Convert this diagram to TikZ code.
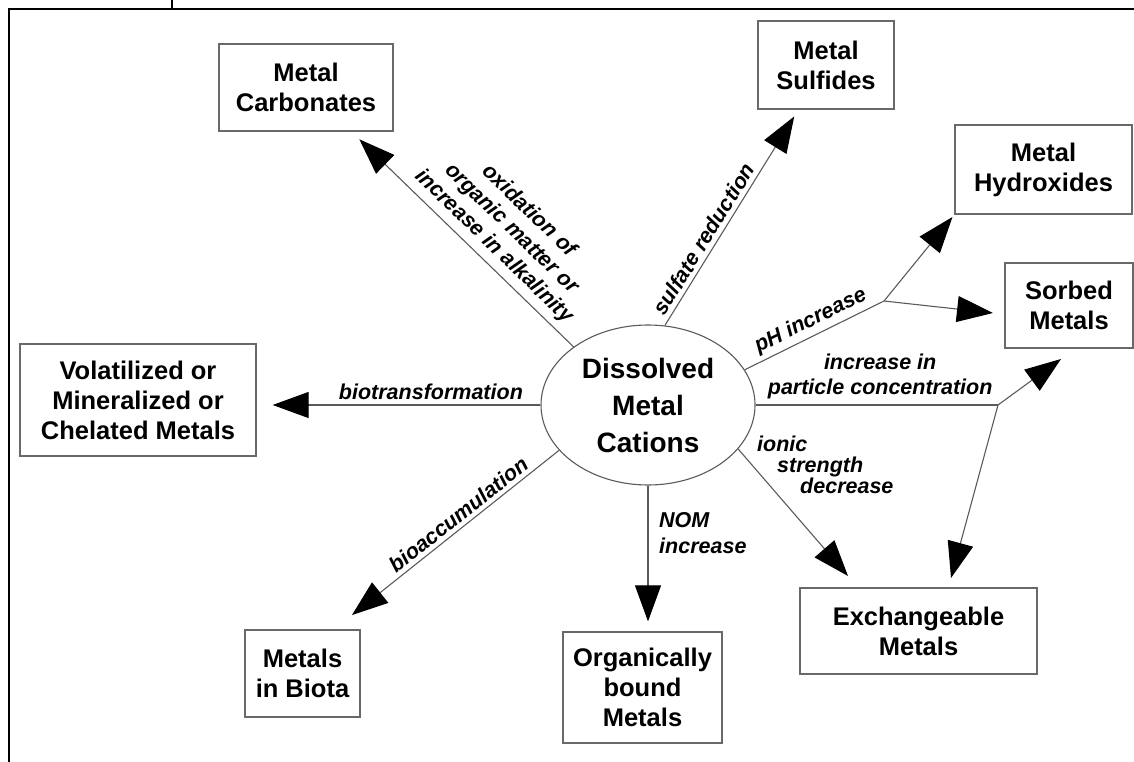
\documentclass[tikz,border=0pt]{standalone}
\usepackage{fontspec}
\setmainfont{Liberation Sans}
\usetikzlibrary{arrows.meta,shapes.geometric}
\definecolor{boxgray}{RGB}{105,105,105}
\definecolor{linegray}{RGB}{90,90,90}
\begin{document}
\begin{tikzpicture}[x=1pt,y=-1pt,
  box/.style={draw=boxgray, line width=1.3pt, inner sep=0pt, align=center,
    font=\bfseries\fontsize{25.5}{30}\selectfont, text=black},
  lab/.style={font=\bfseries\itshape\fontsize{21.5}{25}\selectfont, inner sep=0pt, align=center, text=black},
  conn/.style={draw=linegray, line width=1.1pt},
  arr/.style={conn, -{Triangle[length=36pt,width=26pt,color=black]}},
]
\useasboundingbox (0,0) rectangle (1134,762);
% frame
\draw[line width=2.2pt] (9,762) -- (9,9) -- (1134,9);
\draw[line width=2pt] (172,0) -- (172,8);

% central ellipse
\node[ellipse, draw=linegray, line width=1.1pt, minimum width=214pt, minimum height=160pt,
  inner sep=0pt, align=center, font=\bfseries\fontsize{28}{37}\selectfont] (ell) at (648,405)
  {Dissolved\\Metal\\Cations};

% boxes
\node[box, minimum width=174pt, minimum height=87pt] (carb) at (306,87.5) {Metal\\Carbonates};
\node[box, minimum width=136pt, minimum height=88pt] (sulf) at (826,65) {Metal\\Sulfides};
\node[box, minimum width=177pt, minimum height=89pt] (hyd) at (1043.5,169.5) {Metal\\Hydroxides};
\node[box, minimum width=128pt, minimum height=85pt] (sorb) at (1069,305.5) {Sorbed\\Metals};
\node[box, minimum width=236pt, minimum height=112pt] (vol) at (138,400) {Volatilized or\\Mineralized or\\Chelated Metals};
\node[box, minimum width=115pt, minimum height=87pt] (biota) at (302.5,673.5) {Metals\\in Biota};
\node[box, minimum width=159pt, minimum height=111pt] (org) at (642.5,687.5) {Organically\\bound\\Metals};
\node[box, minimum width=237pt, minimum height=86pt] (exch) at (918.5,631) {Exchangeable\\Metals};

% branch points and free ends
\coordinate (b1) at (884,301);
\coordinate (b2) at (998,405);
\coordinate (tS1) at (993,313);
\coordinate (tS2) at (1061,359);
\coordinate (tE2) at (951,578);
\coordinate (tE1) at (848,576);
\coordinate (tB) at (352,615);

% connectors
\draw[arr, shorten >=11pt] (ell.142) -- node[lab, sloped, above=6pt, pos=0.41]
  {oxidation of\\organic matter or\\increase in alkalinity} (carb);
\draw[arr, shorten >=8pt] (ell.78) -- node[lab, sloped, above=4pt, pos=0.37] {sulfate reduction} (sulf);
\draw[conn] (ell.20) -- node[lab, sloped, above=4pt, pos=0.52] {pH increase} (b1);
\draw[arr, shorten >=3pt] (b1) -- (hyd.south west);
\draw[arr] (b1) -- (tS1);
\draw[conn] (ell.east) -- node[lab, above=5pt, pos=0.514] {increase in\\particle concentration} (b2);
\draw[arr] (b2) -- (tS2);
\draw[arr] (b2) -- (tE2);
\draw[arr] (ell.-26) -- (tE1);
\draw[arr, shorten >=10pt] (ell.south) -- (ell.south |- org.north);
\draw[arr] (ell.207) -- node[lab, sloped, above=4pt, pos=0.45] {bioaccumulation} (tB);
\draw[arr, shorten >=16pt] (ell.west) -- node[lab, above=5pt, pos=0.386] {biotransformation} (ell.west -| vol.east);

% free labels
\node[lab, align=left, anchor=west, font=\bfseries\itshape\fontsize{21.5}{26}\selectfont] (nom) at (659,533) {NOM\\increase};
\node[lab, align=left, anchor=north west, font=\bfseries\itshape\fontsize{21.5}{21}\selectfont] (ionic) at (757,436)
  {ionic\\\hspace*{20pt}strength\\\hspace*{43pt}decrease};
\end{tikzpicture}
\end{document}
